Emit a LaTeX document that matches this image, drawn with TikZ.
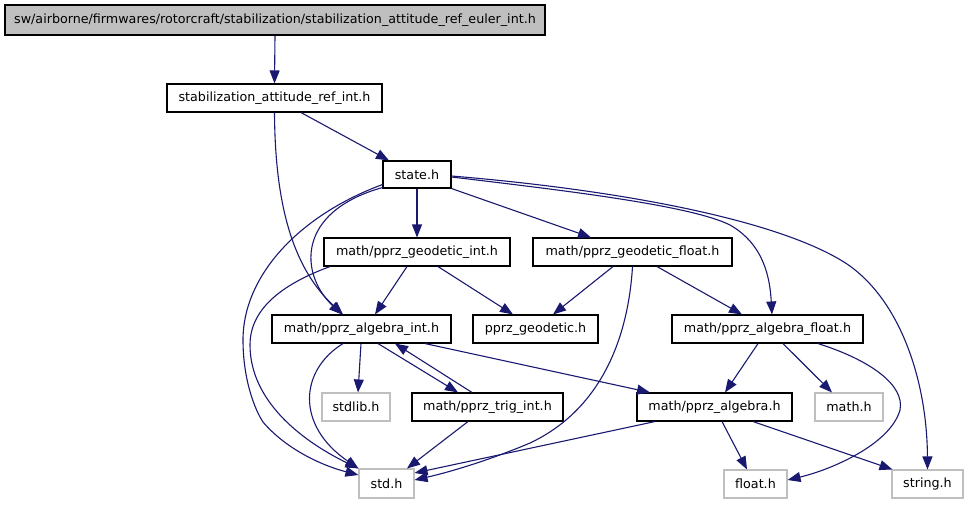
\documentclass[tikz,border=0pt]{standalone}
\usepackage{fontspec}
\setmainfont{DejaVu Sans}
\usetikzlibrary{arrows.meta}
\definecolor{edgec}{HTML}{191970}
\definecolor{sysc}{HTML}{BFBFBF}
\tikzset{
  box/.style={draw=black, line width=1.1pt, rectangle, inner sep=0pt, minimum height=28pt, font=\fontsize{12.7}{14}\selectfont},
  rootbox/.style={box, fill=sysc, minimum height=30pt},
  sysbox/.style={box, draw=sysc},
  edge/.style={draw=edgec, line width=1.1pt, -{Triangle[length=13pt,width=10pt]}},
}
\begin{document}
\begin{tikzpicture}[x=1pt,y=-1pt]
\useasboundingbox (0,0) rectangle (968,504);
% nodes
\node[rootbox, minimum width=540pt] (root) at (275,20) {sw/airborne/firmwares/rotorcraft/stabilization/stabilization\_attitude\_ref\_euler\_int.h};
\node[box, minimum width=215pt] (sari) at (274.5,98) {stabilization\_attitude\_ref\_int.h};
\node[box, minimum width=68pt, minimum height=27pt] (state) at (417,174.5) {state.h};
\node[box, minimum width=186pt] (gi) at (417,252) {math/pprz\_geodetic\_int.h};
\node[box, minimum width=199pt] (gf) at (632.5,252) {math/pprz\_geodetic\_float.h};
\node[box, minimum width=179pt] (ai) at (361.5,329) {math/pprz\_algebra\_int.h};
\node[box, minimum width=125pt] (pg) at (535.5,329) {pprz\_geodetic.h};
\node[box, minimum width=191pt] (af) at (767.5,329) {math/pprz\_algebra\_float.h};
\node[sysbox, minimum width=68pt] (sd) at (356,407) {stdlib.h};
\node[box, minimum width=151pt] (ti) at (487.5,407) {math/pprz\_trig\_int.h};
\node[box, minimum width=155pt] (pa) at (714.5,407) {math/pprz\_algebra.h};
\node[sysbox, minimum width=68pt] (mh) at (849,407) {math.h};
\node[sysbox, minimum width=55pt, minimum height=29pt] (std) at (386.5,483.5) {std.h};
\node[sysbox, minimum width=63pt] (fl) at (755.5,484) {float.h};
\node[sysbox, minimum width=71pt] (st) at (927.5,484) {string.h};
% edges
\draw[edge] (root.south) -- (sari.north);
\draw[edge] ([xshift=26.5pt]sari.south) -- ([xshift=-28pt]state.north);
\draw[edge] (sari.south) .. controls (275,210) and (295,270) .. ([xshift=-18.5pt]ai.north);
\draw[edge] ([yshift=1pt]state.south west) .. controls (295,212) and (300,275) .. ([xshift=-19.5pt]ai.north);
\draw[edge] ([yshift=4pt]state.south west) .. controls (300,215) and (243,275) .. (243,340) .. controls (243,380) and (255,410) .. (263,422) .. controls (285,448) and (320,465) .. ([yshift=8.5pt]std.west);
\draw[edge] ([xshift=-87pt]gi.south) .. controls (280,285) and (250,310) .. (250,345) .. controls (250,400) and (300,440) .. (std.north west);
\draw[edge] ([xshift=-18.5pt]ai.south) .. controls (300,370) and (295,425) .. (std.north west);
\draw[edge] (state.south) -- (gi.north);
\draw[edge] (state.south east) -- ([xshift=-41.5pt]gf.north);
\draw[edge] ([yshift=-2.5pt]state.east) .. controls (560,190) and (690,205) .. (730,225) .. controls (765,245) and (770,280) .. ([xshift=4.5pt]af.north);
\draw[edge] ([yshift=-1.5pt]state.east) .. controls (620,190) and (780,220) .. (847,264) .. controls (900,300) and (927,380) .. (st.north);
\draw[edge] ([xshift=-10pt]gi.south) -- ([xshift=13.5pt]ai.north);
\draw[edge] ([xshift=21pt]gi.south) -- ([xshift=-22.5pt]pg.north);
\draw[edge] ([xshift=-19.5pt]gf.south) -- ([xshift=17.5pt]pg.north);
\draw[edge] ([xshift=24.5pt]gf.south) -- ([xshift=-25.5pt]af.north);
\draw[edge] (gf.south) .. controls (628,340) and (600,410) .. (530,443) .. controls (490,460) and (450,472) .. ([yshift=3.5pt]std.east);
\draw[edge] ([xshift=-0.5pt]ai.south) -- ([xshift=2pt]sd.north);
\draw[edge] ([xshift=16.5pt]ai.south) -- ([xshift=-29.5pt]ti.north);
\draw[edge] ([xshift=-15.5pt]ti.north) -- ([xshift=33.5pt]ai.south);
\draw[edge] ([xshift=63.5pt]ai.south) -- ([xshift=-64.5pt]pa.north);
\draw[edge] ([xshift=-19.5pt]ti.south) -- ([xshift=20.5pt]std.north);
\draw[edge] ([xshift=-9.5pt]af.south) -- ([xshift=10.5pt]pa.north);
\draw[edge] ([xshift=15.5pt]af.south) -- ([xshift=-17pt]mh.north);
\draw[edge] ([xshift=50.5pt]af.south) .. controls (870,360) and (905,385) .. (900,410) .. controls (890,445) and (830,470) .. ([yshift=4pt]fl.east);
\draw[edge] ([xshift=-59.5pt]pa.south) -- ([yshift=10.5pt]std.east);
\draw[edge] ([xshift=7.5pt]pa.south) -- ([xshift=-8.5pt]fl.north);
\draw[edge] ([xshift=38.5pt]pa.south) -- ([xshift=1pt]st.north west);
\end{tikzpicture}
\end{document}
